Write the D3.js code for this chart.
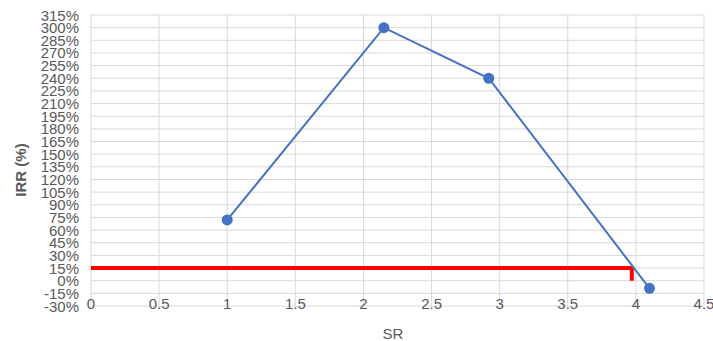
<!DOCTYPE html>
<html>
<head>
<meta charset="utf-8">
<script src="https://cdn.jsdelivr.net/npm/d3@7"></script>
<style>
  body { margin: 0; background: #fff; }
  svg { display: block; }
  text { font-family: "Liberation Sans", Arial, sans-serif; fill: #595959; }
</style>
</head>
<body>
<svg id="chart" width="713" height="341"></svg>
<script>
// Data
const srValues = [1, 2.15, 2.92, 4.1];
const irrValues = [72, 300, 240, -9];
const refLineX = [0, 3.97, 3.97];
const refLineY = [15, 15, 0];
const xTicks = [0, 0.5, 1, 1.5, 2, 2.5, 3, 3.5, 4, 4.5];
const yTicks = d3.range(-30, 316, 15);
const xTitle = "SR";
const yTitle = "IRR (%)";

(function () {
const svg = d3.select("#chart");
const mLeft = 91, mRight = 704, mTop = 15, mBottom = 306;

const x = d3.scaleLinear().domain([0, 4.5]).range([mLeft, mRight]);
const y = d3.scaleLinear().domain([-30, 315]).range([mBottom, mTop]);

// Gridlines
svg.append("g").selectAll("line").data(yTicks).join("line")
  .attr("x1", mLeft).attr("x2", mRight)
  .attr("y1", d => y(d)).attr("y2", d => y(d))
  .attr("stroke", "#d9d9d9").attr("stroke-width", 1);
svg.append("g").selectAll("line").data(xTicks).join("line")
  .attr("x1", d => x(d)).attr("x2", d => x(d))
  .attr("y1", mTop).attr("y2", mBottom)
  .attr("stroke", "#d9d9d9").attr("stroke-width", 1);

// Y tick labels
svg.append("g").selectAll("text").data(yTicks).join("text")
  .attr("x", 79).attr("y", d => y(d))
  .attr("text-anchor", "end").attr("dominant-baseline", "central")
  .attr("font-size", 15)
  .text(d => d + "%");

// X tick labels
svg.append("g").selectAll("text").data(xTicks).join("text")
  .attr("x", d => x(d)).attr("y", 303)
  .attr("text-anchor", "middle").attr("dominant-baseline", "central")
  .attr("font-size", 15)
  .text(d => d);

// Axis titles
svg.append("text")
  .attr("transform", "translate(20,170) rotate(-90)")
  .attr("text-anchor", "middle").attr("dominant-baseline", "central")
  .attr("font-size", 15).attr("font-weight", "bold")
  .text(yTitle);
svg.append("text")
  .attr("x", 393).attr("y", 333)
  .attr("text-anchor", "middle").attr("dominant-baseline", "central")
  .attr("font-size", 15)
  .text(xTitle);

// Red reference line
const refData = refLineX.map((v, i) => [v, refLineY[i]]);
svg.append("path")
  .datum(refData)
  .attr("d", d3.line().x(d => x(d[0])).y(d => y(d[1])))
  .attr("fill", "none").attr("stroke", "#ff0000").attr("stroke-width", 4)
  .attr("stroke-linejoin", "miter");

// Series line
const pts = srValues.map((v, i) => [v, irrValues[i]]);
svg.append("path")
  .datum(pts)
  .attr("d", d3.line().x(d => x(d[0])).y(d => y(d[1])))
  .attr("fill", "none").attr("stroke", "#4472c4").attr("stroke-width", 2);

svg.append("g").selectAll("circle").data(pts).join("circle")
  .attr("cx", d => x(d[0])).attr("cy", d => y(d[1]))
  .attr("r", 5.5).attr("fill", "#4472c4");
})();
</script>
</body>
</html>
